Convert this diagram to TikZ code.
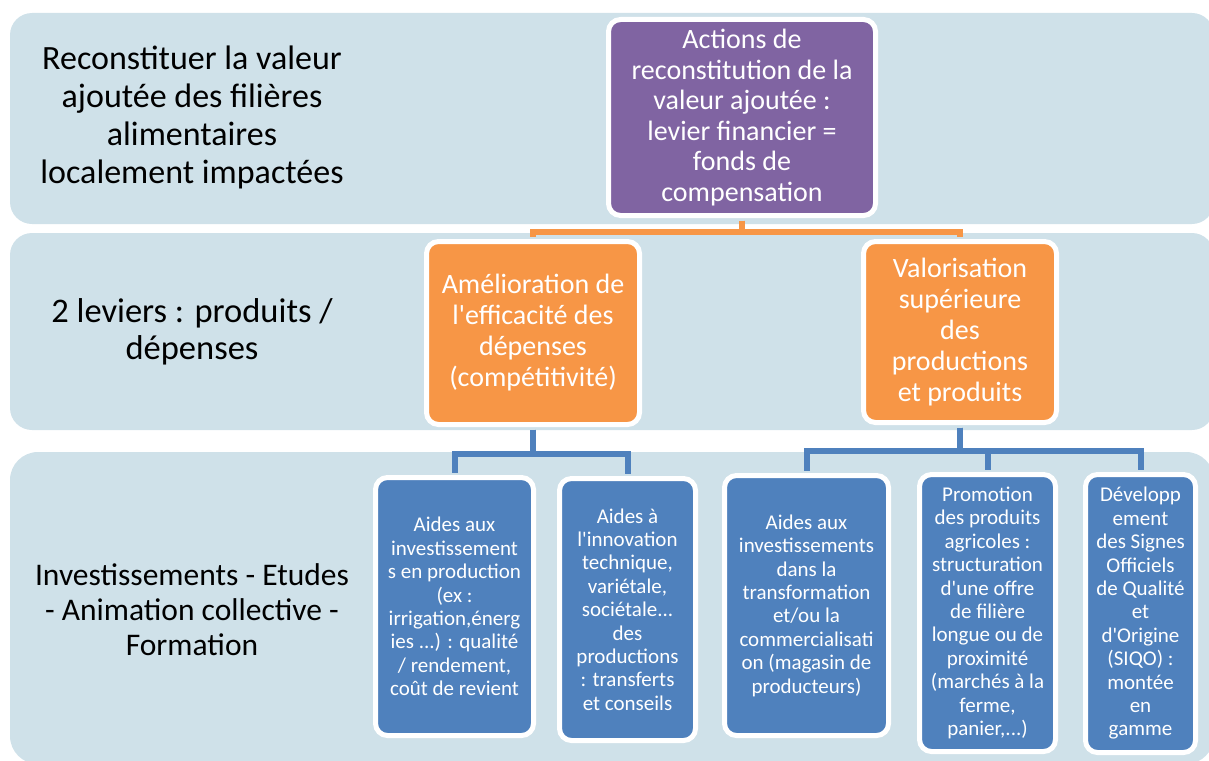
\documentclass[tikz,border=0pt]{standalone}
\usepackage{fontspec}
\setmainfont{Carlito}[Ligatures=TeXOff]
\definecolor{bandbg}{RGB}{207,225,233}
\definecolor{purp}{RGB}{128,100,162}
\definecolor{oran}{RGB}{247,150,70}
\definecolor{blu}{RGB}{79,129,189}

\begin{document}
\begin{tikzpicture}[x=1pt, y=-1pt,
    card/.style={draw=white, line width=5pt, rounded corners=12pt,
                 inner sep=0pt, align=center, text=white},
    topcard/.style={card, fill=purp, font=\fontsize{28}{30.6}\selectfont},
    levcard/.style={card, fill=oran, font=\fontsize{28}{31}\selectfont},
    actcard/.style={card, fill=blu, font=\fontsize{21}{23.4}\selectfont},
    label/.style={align=center, text=black},
    joinO/.style={draw=oran, line width=6pt, shorten <=2.5pt, shorten >=2.5pt},
    joinB/.style={draw=blu, line width=6pt, shorten <=2.5pt, shorten >=2.5pt}]
    \useasboundingbox (0,0) rectangle (1209,760);
    % bands
    \fill[bandbg, rounded corners=22pt] (10,13) rectangle (1214,224);
    \fill[bandbg, rounded corners=22pt] (10,233) rectangle (1214,430);
    \fill[bandbg, rounded corners=28pt] (10,452) rectangle (1214,764);
    % row labels
    \node[label, font=\fontsize{34}{38}\selectfont] (lab1) at (192,117)
      {Reconstituer la valeur\\ajoutée des filières\\alimentaires\\localement impactées};
    \node[label, font=\fontsize{34.5}{37}\selectfont] (lab2) at (192,331.5)
      {2 leviers : produits /\\dépenses};
    \node[label, font=\fontsize{31.5}{35}\selectfont] (lab3) at (192,610)
      {Investissements - Etudes\\- Animation collective -\\Formation};
    % boxes
    \node[topcard, minimum width=267pt, minimum height=196pt] (top) at (742,117.5)
      {Actions de\\reconstitution de la\\valeur ajoutée :\\levier financier =\\fonds de\\compensation};
    \node[levcard, minimum width=213pt, minimum height=183pt] (lev1) at (533,333)
      {Amélioration de\\l'efficacité des\\dépenses\\(compétitivité)};
    \node[levcard, minimum width=193pt, minimum height=181pt] (lev2) at (960,332)
      {Valorisation\\supérieure\\des\\productions\\et produits};
    \node[actcard, minimum width=158pt, minimum height=258pt] (act1) at (454.5,606.5)
      {Aides aux\\investissement\\s en production\\(ex :\\irrigation,énerg\\ies ...) : qualité\\/ rendement,\\coût de revient};
    \node[actcard, minimum width=136pt, minimum height=262pt] (act2) at (627.5,609.5)
      {Aides à\\l'innovation\\technique,\\variétale,\\sociétale...\\des\\productions\\: transferts\\et conseils};
    \node[actcard, minimum width=164pt, minimum height=260pt] (act3) at (806.5,605.5)
      {Aides aux\\investissements\\dans la\\transformation\\et/ou la\\commercialisati\\on (magasin de\\producteurs)};
    \node[actcard, minimum width=136pt, minimum height=277pt] (act4) at (987.5,613)
      {Promotion\\des produits\\agricoles :\\structuration\\d'une offre\\de filière\\longue ou de\\proximité\\(marchés à la\\ferme,\\panier,...)};
    \node[actcard, minimum width=110pt, minimum height=278pt] (act5) at (1140.5,613.5)
      {Développ\\ement\\des Signes\\Officiels\\de Qualité\\et\\d'Origine\\(SIQO) :\\montée\\en\\gamme};
    % connectors
    \draw[joinO] (top.south) -- ++(0,13.5) -| (lev1.north);
    \draw[joinO] (top.south) -- ++(0,13.5) -| (lev2.north);
    \draw[joinB] (lev1.south) -- ++(0,26.5) -| (act1.north);
    \draw[joinB] (lev1.south) -- ++(0,26.5) -| (act2.north);
    \draw[joinB] (lev2.south) -- ++(0,25.5) -| (act3.north);
    \draw[joinB] (lev2.south) -- ++(0,25.5) -| (act4.north);
    \draw[joinB] (lev2.south) -- ++(0,25.5) -| (act5.north);
\end{tikzpicture}
\end{document}
